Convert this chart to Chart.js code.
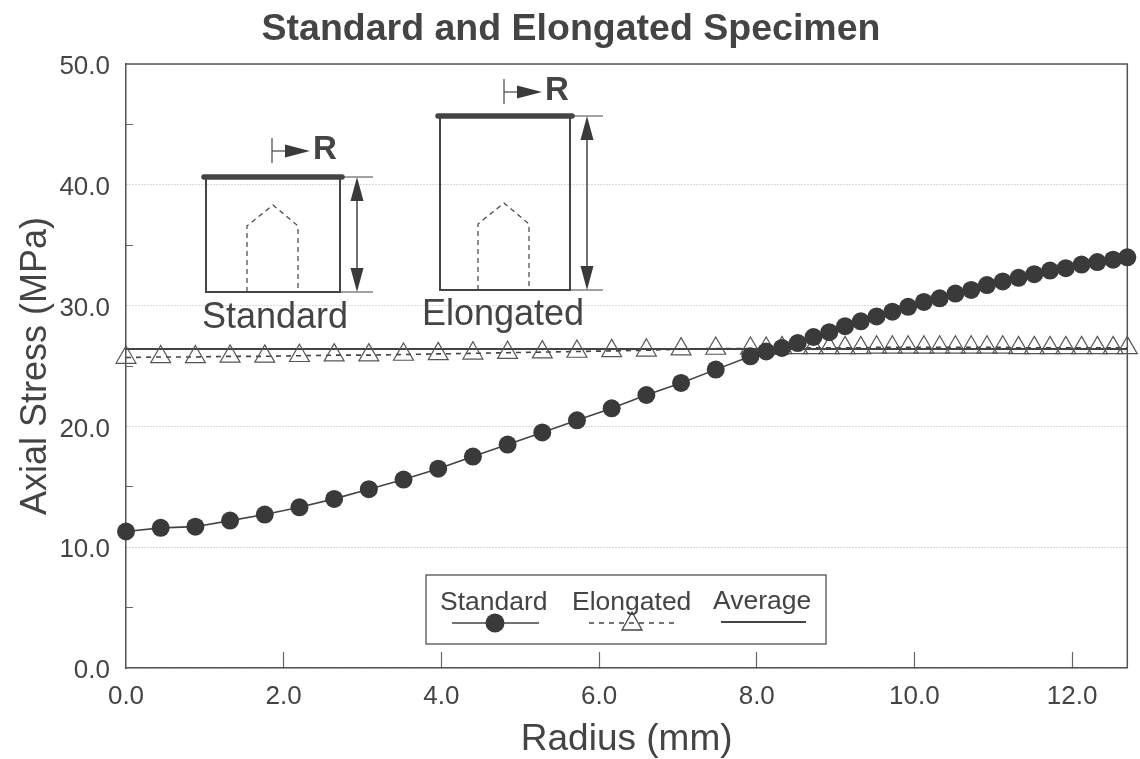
<!DOCTYPE html>
<html>
<head>
<meta charset="utf-8">
<title>Standard and Elongated Specimen</title>
<script src="https://cdn.jsdelivr.net/npm/chart.js@4"></script>
<style>
    body { margin: 0; background: #ffffff; }
    canvas { display: block; }
</style>
</head>
<body>
<canvas id="ChartStress" width="1140" height="759"></canvas>
<script>
// values
const radius = [0.0, 0.44, 0.88, 1.32, 1.76, 2.2, 2.64, 3.08, 3.52, 3.96, 4.4, 4.84, 5.28, 5.72, 6.16, 6.6, 7.04, 7.48, 7.92,
    8.12, 8.32, 8.52, 8.72, 8.92, 9.12, 9.32, 9.52, 9.72, 9.92, 10.12, 10.32, 10.52, 10.72, 10.92, 11.12, 11.32, 11.52, 11.72, 11.92, 12.12, 12.32, 12.52, 12.7];
const standard = [11.3, 11.6, 11.7, 12.2, 12.7, 13.3, 14.0, 14.8, 15.6, 16.5, 17.5, 18.5, 19.5, 20.5, 21.5, 22.6, 23.6, 24.7, 25.8,
    26.2, 26.5, 26.9, 27.4, 27.8, 28.3, 28.7, 29.1, 29.5, 29.9, 30.3, 30.6, 31.0, 31.3, 31.7, 32.0, 32.3, 32.6, 32.9, 33.1, 33.4, 33.6, 33.8, 34.0];
const elongated = [25.7, 25.75, 25.75, 25.8, 25.8, 25.85, 25.9, 25.9, 25.95, 26.0, 26.05, 26.1, 26.15, 26.2, 26.25, 26.3, 26.4, 26.45, 26.45,
    26.45, 26.5, 26.5, 26.5, 26.5, 26.5, 26.5, 26.55, 26.55, 26.55, 26.55, 26.55, 26.55, 26.55, 26.55, 26.55, 26.5, 26.5, 26.5, 26.5, 26.5, 26.5, 26.5, 26.5];
const averageX = [0.0, 12.7];
const averageY = [26.4, 26.4];
const xTicks = [0, 2, 4, 6, 8, 10, 12];
const yTicks = [0, 5, 10, 15, 20, 25, 30, 35, 40, 45, 50];

const ink = '#444444';
const fontName = '"Liberation Sans", Arial, sans-serif';

function toPoints(xs, ys) {
    return xs.map((x, i) => ({ x: x, y: ys[i] }));
}

function line(ctx, pts, width, dash) {
    ctx.beginPath();
    ctx.lineWidth = width;
    ctx.setLineDash(dash || []);
    pts.forEach((p, i) => i ? ctx.lineTo(p[0], p[1]) : ctx.moveTo(p[0], p[1]));
    ctx.stroke();
    ctx.setLineDash([]);
}

function arrowHead(ctx, x, y, dx, dy, len, half) {
    ctx.beginPath();
    ctx.moveTo(x, y);
    ctx.lineTo(x - dx * len - dy * half, y - dy * len - dx * half);
    ctx.lineTo(x - dx * len + dy * half, y - dy * len + dx * half);
    ctx.closePath();
    ctx.fill();
}

// the specimen sketch inside the plot
function specimen(ctx, s) {
    ctx.strokeStyle = ink;
    ctx.fillStyle = '#3a3a3a';
    line(ctx, [[s.left, s.top], [s.left, s.bottom], [s.right, s.bottom], [s.right, s.top]], 2);
    ctx.lineCap = 'round';
    line(ctx, [[s.left - 2, s.top], [s.right + 2, s.top]], 5.5);
    ctx.lineCap = 'butt';
    line(ctx, [[s.right, s.top], [s.extEnd, s.top]], 1);
    line(ctx, [[s.right, s.bottom], [s.extEnd, s.bottom]], 1);
    line(ctx, [[s.arrowX, s.top + 8], [s.arrowX, s.bottom - 8]], 1.5);
    arrowHead(ctx, s.arrowX, s.top, 0, -1, 24, 6.5);
    arrowHead(ctx, s.arrowX, s.bottom, 0, 1, 24, 6.5);
    line(ctx, [[s.houseL, s.bottom], [s.houseL, s.shoulder], [s.apexX, s.apexY], [s.houseR, s.shoulder], [s.houseR, s.bottom]], 1.2, [5, 4]);
    line(ctx, [[s.barX, s.rY - 13], [s.barX, s.rY + 12]], 1.2);
    line(ctx, [[s.barX, s.rY], [s.barX + 16, s.rY]], 1.2);
    arrowHead(ctx, s.barX + 38, s.rY, 1, 0, 25, 6.5);
    ctx.textAlign = 'left';
    ctx.textBaseline = 'alphabetic';
    ctx.fillStyle = ink;
    ctx.font = 'bold 33px ' + fontName;
    ctx.fillText('R', s.barX + 41, s.rY + 8);
    ctx.font = '36px ' + fontName;
    ctx.fillText(s.name, s.textX, s.textY);
}

const decorations = {
    id: 'decorations',
    beforeDatasetsDraw(chart) {
        const { ctx, chartArea: a } = chart;
        ctx.save();
        ctx.strokeStyle = '#555555';
        line(ctx, [[a.left, a.top], [a.right, a.top], [a.right, a.bottom]], 1.5);
        ctx.restore();
    },
    afterDraw(chart) {
        const ctx = chart.ctx;
        ctx.save();
        specimen(ctx, { name: 'Standard', left: 206, right: 340, top: 177, bottom: 292, extEnd: 373, arrowX: 357,
            houseL: 247, houseR: 298, shoulder: 226, apexX: 273, apexY: 205, barX: 272, rY: 151, textX: 202, textY: 328 });
        specimen(ctx, { name: 'Elongated', left: 440, right: 570, top: 116, bottom: 290, extEnd: 603, arrowX: 587,
            houseL: 478, houseR: 529, shoulder: 224, apexX: 504, apexY: 203, barX: 504, rY: 92, textX: 422, textY: 325 });

        // legend box
        ctx.strokeStyle = ink;
        ctx.strokeRect(426, 575, 400, 69);
        ctx.fillStyle = ink;
        ctx.font = '26.5px ' + fontName;
        ctx.textAlign = 'left';
        ctx.textBaseline = 'alphabetic';
        const ds = chart.data.datasets;
        ctx.fillText(ds[0].label, 440, 610);
        ctx.fillText(ds[1].label, 572, 610);
        ctx.fillText(ds[2].label, 713, 609);
        line(ctx, [[452, 623], [539, 623]], 1.5);
        line(ctx, [[589, 623], [675, 623]], 1.5, [5, 5]);
        line(ctx, [[721, 622], [806, 622]], 2);
        ctx.fillStyle = '#3a3a3a';
        ctx.beginPath();
        ctx.arc(495, 623, 9.5, 0, Math.PI * 2);
        ctx.fill();
        ctx.lineWidth = 1.3;
        ctx.beginPath();
        ctx.moveTo(632, 612);
        ctx.lineTo(642, 630);
        ctx.lineTo(622, 630);
        ctx.closePath();
        ctx.stroke();
        ctx.restore();
    }
};

new Chart(document.getElementById("ChartStress"), {
    type: 'scatter',
    data: {
        datasets: [{
            label: 'Standard',
            data: toPoints(radius, standard),
            showLine: true,
            borderColor: ink,
            borderWidth: 1.6,
            pointBackgroundColor: '#3a3a3a',
            pointBorderColor: '#3a3a3a',
            pointBorderWidth: 0,
            pointRadius: 9,
            clip: false
        }, {
            label: 'Elongated',
            data: toPoints(radius, elongated),
            showLine: true,
            borderColor: ink,
            borderWidth: 1.6,
            borderDash: [5, 5],
            pointStyle: 'triangle',
            pointBackgroundColor: 'transparent',
            pointBorderColor: '#555555',
            pointBorderWidth: 1.2,
            pointRadius: 11.5,
            clip: false
        }, {
            label: 'Average',
            data: toPoints(averageX, averageY),
            showLine: true,
            borderColor: ink,
            borderWidth: 2,
            pointRadius: 0,
            clip: false
        }]
    },
    plugins: [decorations],
    options: {
        responsive: false,
        animation: false,
        layout: { padding: { left: 14, right: 12 } },
        plugins: {
            legend: { display: false },
            tooltip: { enabled: false },
            title: {
                display: true,
                text: 'Standard and Elongated Specimen',
                color: ink,
                font: { family: fontName, size: 37.5, weight: 'bold', lineHeight: 1.2 },
                padding: { top: 7, bottom: 12 }
            }
        },
        scales: {
            x: {
                type: 'linear',
                min: 0,
                max: 12.7,
                afterBuildTicks: scale => { scale.ticks = xTicks.map(v => ({ value: v })); },
                afterFit: scale => { scale.height = 91; },
                border: { color: '#555555', width: 1.5 },
                grid: {
                    drawOnChartArea: false,
                    tickLength: -16,
                    tickColor: c => c.tick.value === 0 ? 'transparent' : '#666666',
                    tickWidth: 1.2
                },
                ticks: {
                    color: ink,
                    padding: 29,
                    maxRotation: 0,
                    autoSkip: false,
                    font: { family: fontName, size: 26 },
                    callback: v => v.toFixed(1)
                },
                title: {
                    display: true,
                    text: 'Radius (mm)',
                    color: ink,
                    font: { family: fontName, size: 37 },
                    padding: { top: 0, bottom: -3 }
                }
            },
            y: {
                min: 0,
                max: 50,
                afterBuildTicks: scale => { scale.ticks = yTicks.map(v => ({ value: v })); },
                afterFit: scale => { scale.width = 112; },
                border: { color: '#555555', width: 1.5, dash: [1, 2] },
                grid: {
                    tickLength: -7,
                    lineWidth: 1,
                    color: c => c.tick.value % 10 === 0 ? '#b5b5b5' : 'transparent',
                    tickColor: c => c.tick.value % 10 === 0 ? 'transparent' : '#666666'
                },
                ticks: {
                    color: ink,
                    padding: 23,
                    labelOffset: 3,
                    autoSkip: false,
                    font: { family: fontName, size: 26 },
                    callback: v => v % 10 === 0 ? v.toFixed(1) : ''
                },
                title: {
                    display: true,
                    text: 'Axial Stress (MPa)',
                    color: ink,
                    font: { family: fontName, size: 36 },
                    padding: { top: 0, bottom: 5 }
                }
            }
        }
    }
});
</script>
</body>
</html>
